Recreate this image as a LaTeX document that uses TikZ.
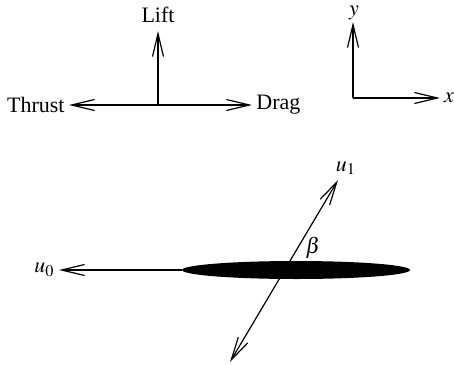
\documentclass[tikz,border=0pt]{standalone}
\usepackage{mathptmx}
\usepackage{fontspec}
\setmainfont{Liberation Serif}
\usepackage{tikz}
\usetikzlibrary{arrows.meta,shapes.geometric}
\tikzset{
    vec/.style={-{Straight Barb[length=11.5pt,width=5.5pt]}, line width=0.6pt},
    dvec/.style={{Straight Barb[length=11.5pt,width=5.5pt]}-{Straight Barb[length=11.5pt,width=5.5pt]}, line width=0.6pt},
    lbl/.style={inner sep=1pt, font=\fontsize{11}{13}\selectfont},
    wingshape/.style={draw=none, fill=black, ellipse, inner sep=0pt,
        minimum width=114pt, minimum height=9pt}
}

\begin{document}
\begin{tikzpicture}[x=0.5pt, y=-0.5pt]
        \useasboundingbox (0,0) rectangle (454,364);

        % forces
        \coordinate (fc) at (158,105);
        \coordinate (liftend) at (158,31);
        \coordinate (thrustend) at (69,105);
        \coordinate (dragend) at (252,105);
        \node[lbl] (lift) at (158,15) {Lift};
        \node[lbl, anchor=east] (thrust) at (67,105) {Thrust};
        \node[lbl, anchor=west] (drag) at (254,105) {Drag};
        \draw[vec] (fc) -- (liftend);
        \draw[vec] (fc) -- (thrustend);
        \draw[vec] (fc) -- (dragend);

        % axes
        \coordinate (o) at (353,98);
        \coordinate (yend) at (353,22);
        \coordinate (xend) at (440,98);
        \node[lbl] (ylab) at (354,13) {$y$};
        \node[lbl] (xlab) at (449,98) {$x$};
        \draw[vec] (o) -- (yend);
        \draw[vec] (o) -- (xend);

        % wing
        \node[wingshape] (wing) at (296,270) {};
        \coordinate (u0end) at (59,270);
        \coordinate (u1end) at (338,180);
        \coordinate (u1start) at (230,362);
        \node[lbl, anchor=east] (u0) at (57,270) {$u_0$};
        \node[lbl] (u1) at (346,168) {$u_1$};
        \node[lbl] (beta) at (313,248) {$\beta$};
        \draw[vec] (wing.west) -- (u0end);
        \draw[dvec] (u1start) -- (u1end);
    \end{tikzpicture}
\end{document}
